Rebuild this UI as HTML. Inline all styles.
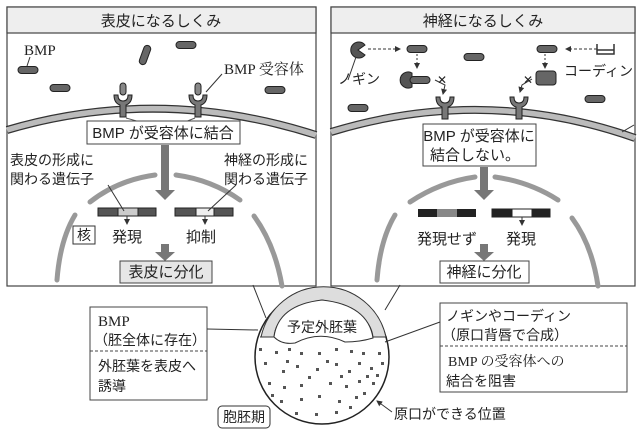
<!DOCTYPE html>
<html><head><meta charset="utf-8"><style>
html,body{margin:0;padding:0;background:#fff}
svg{display:block}
text{font-family:"Liberation Sans","Noto Sans CJK JP",sans-serif;fill:#222}
.s{font-family:"Liberation Serif","Noto Serif CJK SC",serif}
</style></head><body>
<svg width="640" height="438" viewBox="0 0 640 438" xmlns="http://www.w3.org/2000/svg">
<defs>
<marker id="ah" markerWidth="6" markerHeight="6" refX="5" refY="3" orient="auto"><path d="M0,0L6,3L0,6z" fill="#333"/></marker>
<g id="bmp"><rect x="-10" y="-3.5" width="20" height="7" rx="3.5" fill="#666" stroke="#222" stroke-width="1"/></g>
<g id="rec"><path d="M-3,0 L-3,-12 Q-9,-14 -9,-22 L-5,-22 Q-5,-16 0,-16 Q5,-16 5,-22 L9,-22 Q9,-14 3,-12 L3,0 z" fill="#777" stroke="#222" stroke-width="1"/></g>
</defs>
<!-- Left panel -->
<rect x="7" y="7" width="309" height="279" fill="#fff" stroke="#444" stroke-width="1.2"/>
<rect x="7" y="7" width="309" height="26" fill="#eee" stroke="#444" stroke-width="1.2"/>
<text x="161" y="26" font-size="15" text-anchor="middle">表皮になるしくみ</text>
<text x="24" y="55" font-size="15" class="s">BMP</text>
<line x1="30" y1="57" x2="27" y2="66" stroke="#333"/>
<use href="#bmp" transform="translate(28,70)"/>
<use href="#bmp" transform="translate(60,88)"/>
<use href="#bmp" transform="translate(145,55) rotate(-70)"/>
<use href="#bmp" transform="translate(186,45)"/>
<use href="#bmp" transform="translate(275,90)"/>
<path d="M7,130 Q160,85 316,135" fill="none" stroke="#333" stroke-width="8"/>
<path d="M7,130 Q160,85 316,135" fill="none" stroke="#bbb" stroke-width="5.5"/>
<g transform="translate(123,117)"><use href="#rec"/><rect x="-3" y="-34" width="6" height="12" rx="3" fill="#888" stroke="#222"/></g>
<g transform="translate(198,117)"><use href="#rec"/><rect x="-3" y="-34" width="6" height="12" rx="3" fill="#888" stroke="#222"/></g>
<text x="224" y="74" font-size="15" class="s">BMP 受容体</text>
<line x1="222" y1="74" x2="206" y2="92" stroke="#333"/>
<path d="M126,118 L140,122 M195,118 L185,122" stroke="#555"/>
<rect x="87" y="121" width="153" height="23" fill="#fff" stroke="#444"/>
<text x="163" y="138" font-size="15" text-anchor="middle">BMP が受容体に結合</text>
<path d="M161,145 L169,145 L169,190 L175,190 L165,200 L155,190 L161,190 z" fill="#777"/>
<text x="10" y="165" font-size="14">表皮の形成に</text>
<text x="10" y="184" font-size="14">関わる遺伝子</text>
<text x="224" y="165" font-size="14">神経の形成に</text>
<text x="224" y="184" font-size="14">関わる遺伝子</text>
<path d="M90,202 Q118,180 155,175" fill="none" stroke="#999" stroke-width="5" stroke-linecap="round"/>
<path d="M176,175 Q212,180 240,200" fill="none" stroke="#999" stroke-width="5" stroke-linecap="round"/>
<path d="M57,280 Q60,240 75,215" fill="none" stroke="#999" stroke-width="5" stroke-linecap="round"/>
<path d="M254,216 Q275,245 282,286" fill="none" stroke="#999" stroke-width="5" stroke-linecap="round"/>
<rect x="98" y="208" width="58" height="8" fill="#555" stroke="#222"/><rect x="118" y="208" width="20" height="8" fill="#ccc" stroke="#222"/>
<rect x="175" y="208" width="58" height="8" fill="#555" stroke="#222"/><rect x="196" y="208" width="18" height="8" fill="#eee" stroke="#222"/>
<line x1="108" y1="185" x2="124" y2="211" stroke="#333"/>
<line x1="236" y1="185" x2="208" y2="211" stroke="#333"/>
<line x1="127" y1="216" x2="127" y2="224" stroke="#333" marker-end="url(#ah)"/>
<line x1="205" y1="216" x2="205" y2="224" stroke="#333" marker-end="url(#ah)"/>
<rect x="73" y="226" width="22" height="18" fill="#fff" stroke="#333"/>
<text x="84" y="240" font-size="14" text-anchor="middle">核</text>
<text x="112" y="242" font-size="15">発現</text>
<text x="186" y="242" font-size="15">抑制</text>
<path d="M161,244 L169,244 L169,252 L175,252 L165,261 L155,252 L161,252 z" fill="#777"/>
<rect x="120" y="261" width="92" height="22" fill="#e6e6e6" stroke="#444"/>
<text x="166" y="277" font-size="15" text-anchor="middle">表皮に分化</text>
<!-- Right panel -->
<rect x="331" y="7" width="304" height="279" fill="#fff" stroke="#444" stroke-width="1.2"/>
<rect x="331" y="7" width="304" height="26" fill="#eee" stroke="#444" stroke-width="1.2"/>
<text x="483" y="26" font-size="15" text-anchor="middle">神経になるしくみ</text>
<path d="M365,45 A8,8 0 1 0 365,55 L358,50 z" fill="#555" stroke="#222"/>
<line x1="356" y1="57" x2="348" y2="80" stroke="#333"/>
<text x="338" y="84" font-size="14">ノギン</text>
<line x1="368" y1="49" x2="400" y2="49" stroke="#333" stroke-dasharray="3,2" marker-end="url(#ah)"/>
<use href="#bmp" transform="translate(417,49)"/>
<line x1="417" y1="54" x2="417" y2="68" stroke="#333" stroke-dasharray="2,2" marker-end="url(#ah)"/>
<path d="M412,73 A8,8 0 1 0 412,87 z" fill="#555" stroke="#222"/>
<use href="#bmp" transform="translate(420,80)"/>
<path d="M435,80 L445,85 L443,94" fill="none" stroke="#333" marker-end="url(#ah)"/>
<text x="437" y="84" font-size="12">✕</text>
<use href="#bmp" transform="translate(474,57)"/>
<use href="#bmp" transform="translate(547,49)"/>
<line x1="597" y1="49" x2="566" y2="49" stroke="#333" stroke-dasharray="3,2" marker-end="url(#ah)"/>
<path d="M597,44 L597,54 L614,54 L614,44 M597,50 L614,50" fill="none" stroke="#333" stroke-width="1.5"/>
<text x="564" y="76" font-size="14">コーディン</text>
<line x1="545" y1="54" x2="545" y2="68" stroke="#333" stroke-dasharray="2,2" marker-end="url(#ah)"/>
<rect x="536" y="71" width="20" height="14" rx="3" fill="#666" stroke="#222"/>
<path d="M532,79 L522,85 L520,92" fill="none" stroke="#333" marker-end="url(#ah)"/>
<text x="523" y="84" font-size="12">✕</text>
<use href="#bmp" transform="translate(358,108)"/>
<use href="#bmp" transform="translate(595,99)"/>
<path d="M331,132 Q485,85 635,138" fill="none" stroke="#333" stroke-width="8"/>
<path d="M331,132 Q485,85 635,138" fill="none" stroke="#bbb" stroke-width="5.5"/>
<g transform="translate(445,119)"><use href="#rec"/></g>
<g transform="translate(519,119)"><use href="#rec"/></g>
<line x1="622" y1="132" x2="634" y2="125" stroke="#333"/>
<rect x="423" y="124" width="113" height="42" fill="#fff" stroke="#444"/>
<text x="479" y="141" font-size="15" text-anchor="middle">BMP が受容体に</text>
<text x="475" y="160" font-size="15" text-anchor="middle">結合しない。</text>
<path d="M480,167 L488,167 L488,190 L494,190 L484,200 L474,190 L480,190 z" fill="#777"/>
<path d="M410,202 Q440,182 475,177" fill="none" stroke="#999" stroke-width="5" stroke-linecap="round"/>
<path d="M495,177 Q530,182 558,200" fill="none" stroke="#999" stroke-width="5" stroke-linecap="round"/>
<path d="M377,280 Q380,240 395,215" fill="none" stroke="#999" stroke-width="5" stroke-linecap="round"/>
<path d="M572,218 Q592,245 598,286" fill="none" stroke="#999" stroke-width="5" stroke-linecap="round"/>
<rect x="418" y="209" width="58" height="8" fill="#222"/><rect x="437" y="209" width="20" height="8" fill="#888"/>
<rect x="492" y="209" width="58" height="8" fill="#222" stroke="#222"/><rect x="512" y="209" width="20" height="8" fill="#fff" stroke="#222"/>
<line x1="522" y1="217" x2="522" y2="225" stroke="#333" marker-end="url(#ah)"/>
<text x="417" y="244" font-size="15">発現せず</text>
<text x="506" y="244" font-size="15">発現</text>
<path d="M480,244 L488,244 L488,252 L494,252 L484,261 L474,252 L480,252 z" fill="#777"/>
<rect x="440" y="261" width="89" height="22" fill="#fff" stroke="#444"/>
<text x="484" y="277" font-size="15" text-anchor="middle">神経に分化</text>
<!-- Bottom -->
<line x1="253" y1="285" x2="266" y2="318" stroke="#333"/>
<line x1="400" y1="285" x2="385" y2="310" stroke="#333"/>
<line x1="320" y1="288" x2="320" y2="300" stroke="#333"/>
<circle cx="322" cy="357" r="67" fill="#fff" stroke="#222" stroke-width="1.5"/>
<path d="M261,337 A64,64 0 0 1 386,337 L373,337 Q370,310 322,300 Q276,310 274,337 z" fill="#ddd" stroke="#333"/>
<path d="M274,337 Q278,305 322,300 Q368,305 373,338 Q360,342 345,342 Q320,330 295,343 Q282,345 274,337 z" fill="#fff" stroke="#333"/>
<text x="322" y="332" font-size="14" text-anchor="middle">予定外胚葉</text>
<line x1="260" y1="337" x2="274" y2="337" stroke="#333"/>
<line x1="373" y1="337" x2="387" y2="337" stroke="#333"/>
<g fill="#555">
<rect x="259" y="348" width="3" height="3"/><rect x="275" y="351" width="3" height="3"/><rect x="288" y="348" width="3" height="3"/><rect x="300" y="352" width="3" height="3"/>
<rect x="318" y="352" width="3" height="3"/><rect x="335" y="348" width="3" height="3"/><rect x="350" y="350" width="3" height="3"/><rect x="362" y="352" width="3" height="3"/>
<rect x="264" y="362" width="3" height="3"/><rect x="282" y="370" width="3" height="3"/><rect x="296" y="365" width="3" height="3"/><rect x="316" y="368" width="3" height="3"/>
<rect x="335" y="363" width="3" height="3"/><rect x="348" y="370" width="3" height="3"/><rect x="358" y="362" width="3" height="3"/><rect x="370" y="367" width="3" height="3"/>
<rect x="268" y="382" width="3" height="3"/><rect x="283" y="386" width="3" height="3"/><rect x="300" y="384" width="3" height="3"/><rect x="329" y="382" width="3" height="3"/>
<rect x="345" y="385" width="3" height="3"/><rect x="358" y="380" width="3" height="3"/><rect x="372" y="382" width="3" height="3"/><rect x="280" y="400" width="3" height="3"/>
<rect x="300" y="398" width="3" height="3"/><rect x="318" y="395" width="3" height="3"/><rect x="338" y="400" width="3" height="3"/><rect x="355" y="396" width="3" height="3"/>
<rect x="295" y="412" width="3" height="3"/><rect x="315" y="413" width="3" height="3"/><rect x="335" y="411" width="3" height="3"/>
<rect x="378" y="352" width="3" height="3"/><rect x="381" y="362" width="3" height="3"/><rect x="376" y="374" width="3" height="3"/>
<rect x="366" y="375" width="3" height="3"/><rect x="340" y="375" width="3" height="3"/><rect x="326" y="360" width="3" height="3"/><rect x="308" y="376" width="3" height="3"/>
<rect x="363" y="392" width="3" height="3"/><rect x="349" y="406" width="3" height="3"/><rect x="286" y="360" width="3" height="3"/><rect x="271" y="394" width="3" height="3"/>
</g>
<rect x="90" y="307" width="117" height="93" fill="#fff" stroke="#444"/>
<text x="98" y="326" font-size="15" class="s">BMP</text>
<text x="94" y="345" font-size="14">（胚全体に存在）</text>
<line x1="90" y1="351" x2="207" y2="351" stroke="#444" stroke-dasharray="3,2"/>
<text x="98" y="371" font-size="14">外胚葉を表皮へ</text>
<text x="98" y="391" font-size="14">誘導</text>
<line x1="207" y1="329" x2="258" y2="330" stroke="#333"/>
<rect x="440" y="303" width="187" height="89" fill="#fff" stroke="#444"/>
<text x="446" y="321" font-size="14">ノギンやコーディン</text>
<text x="442" y="340" font-size="14">（原口背唇で合成）</text>
<line x1="440" y1="346" x2="627" y2="346" stroke="#444" stroke-dasharray="3,2"/>
<text x="448" y="366" font-size="14" class="s">BMP の受容体への</text>
<text x="446" y="386" font-size="14">結合を阻害</text>
<line x1="440" y1="322" x2="385" y2="342" stroke="#333"/>
<rect x="218" y="406" width="52" height="22" rx="4" fill="#fff" stroke="#333"/>
<text x="244" y="422" font-size="14" text-anchor="middle">胞胚期</text>
<line x1="392" y1="412" x2="377" y2="401" stroke="#333" marker-end="url(#ah)"/>
<text x="394" y="419" font-size="14">原口ができる位置</text>
</svg>
</body></html>
